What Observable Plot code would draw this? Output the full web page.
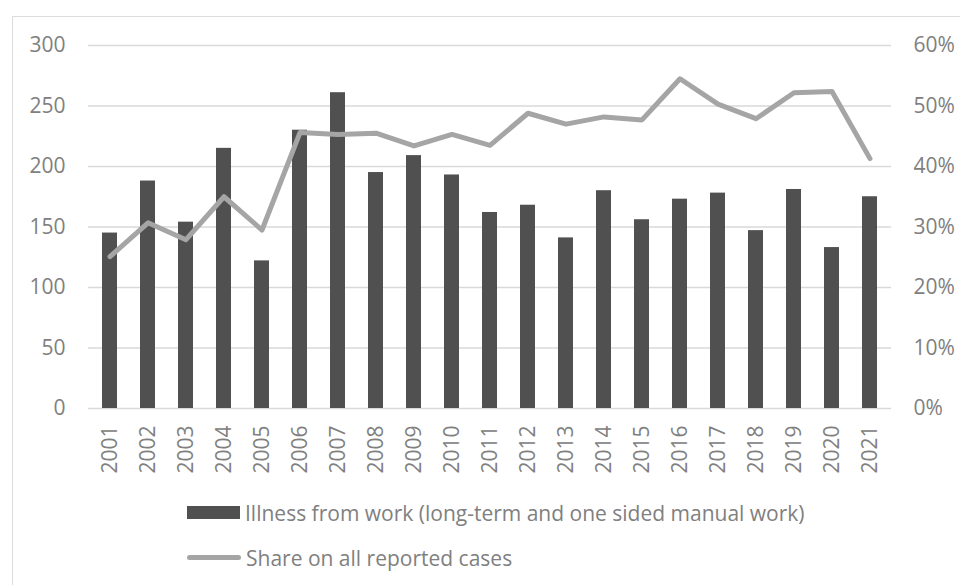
<!DOCTYPE html>
<html>
<head>
<meta charset="utf-8">
<script src="https://cdn.jsdelivr.net/npm/d3@7"></script>
<script src="https://cdn.jsdelivr.net/npm/@observablehq/plot@0.6"></script>
<style>
  html, body { margin: 0; padding: 0; background: #fff; }
  #wrap { position: relative; width: 960px; height: 585px; overflow: hidden; font-family: "Open Sans", sans-serif; }
  #frame { position: absolute; left: 12px; top: 16px; width: 1000px; height: 700px; border: 1px solid #dcdcdc; box-sizing: border-box; pointer-events: none; }
  #chart { position: absolute; left: 0; top: 0; }
  #legend { position: absolute; left: 187px; top: 490px; color: #808080; font-size: 21px; }
  .row { display: flex; align-items: center; height: 45px; }
  .sw-bar { width: 53px; height: 13px; background: #505050; }
  .sw-line { width: 54px; height: 5px; background: #a5a5a5; border-radius: 3px; }
  .lab { margin-left: 5px; white-space: nowrap; }
</style>
</head>
<body>
<div id="wrap">
  <div id="frame"></div>
  <div id="chart"></div>
  <div id="legend">
    <div class="row"><div class="sw-bar"></div><div class="lab">Illness from work (long-term and one sided manual work)</div></div>
    <div class="row"><div class="sw-line"></div><div class="lab">Share on all reported cases</div></div>
  </div>
</div>
<script>
const years = ["2001","2002","2003","2004","2005","2006","2007","2008","2009","2010","2011","2012","2013","2014","2015","2016","2017","2018","2019","2020","2021"];
const cases = [145,188,154,215,122,230,261,195,209,193,162,168,141,180,156,173,178,147,181,133,175];
const share = [25.1,30.7,27.9,35.0,29.5,45.6,45.3,45.5,43.4,45.3,43.5,48.8,47.0,48.2,47.7,54.5,50.3,47.9,52.2,52.4,41.3];
const leftTicks = [0,50,100,150,200,250,300];
const rightTicks = [0,10,20,30,40,50,60];

const data = years.map((y, i) => ({year: y, cases: cases[i], share: share[i]}));
const k = 300 / 60; // maps percent onto the left scale

const chart = Plot.plot({
  width: 960,
  height: 490,
  marginLeft: 88,
  marginRight: 69,
  marginTop: 45,
  marginBottom: 82,
  style: {fontFamily: "'Open Sans', sans-serif", fontSize: "21px", color: "#808080", background: "transparent"},
  x: {domain: years, paddingInner: 0.6, paddingOuter: 0.3, label: null},
  y: {domain: [0, 300], label: null},
  marks: [
    Plot.ruleY(leftTicks, {stroke: "#d9d9d9", strokeWidth: 1.3}),
    Plot.barY(data, {x: "year", y: "cases", fill: "#505050"}),
    Plot.line(data, {x: "year", y: d => d.share * k, stroke: "#a5a5a5", strokeWidth: 5, strokeLinecap: "round", strokeLinejoin: "round"}),
    Plot.axisY({anchor: "left", ticks: leftTicks, tickSize: 0, tickPadding: 23, label: null, fill: "#808080", fontSize: 21}),
    Plot.axisY({anchor: "right", ticks: rightTicks.map(t => t * k), tickFormat: d => (d / k) + "%", tickSize: 0, tickPadding: 22, label: null, fill: "#808080", fontSize: 21}),
    Plot.axisX({tickRotate: -90, tickSize: 0, tickPadding: 17, label: null, fill: "#808080", fontSize: 21})
  ]
});
document.getElementById("chart").appendChild(chart);
</script>
</body>
</html>
